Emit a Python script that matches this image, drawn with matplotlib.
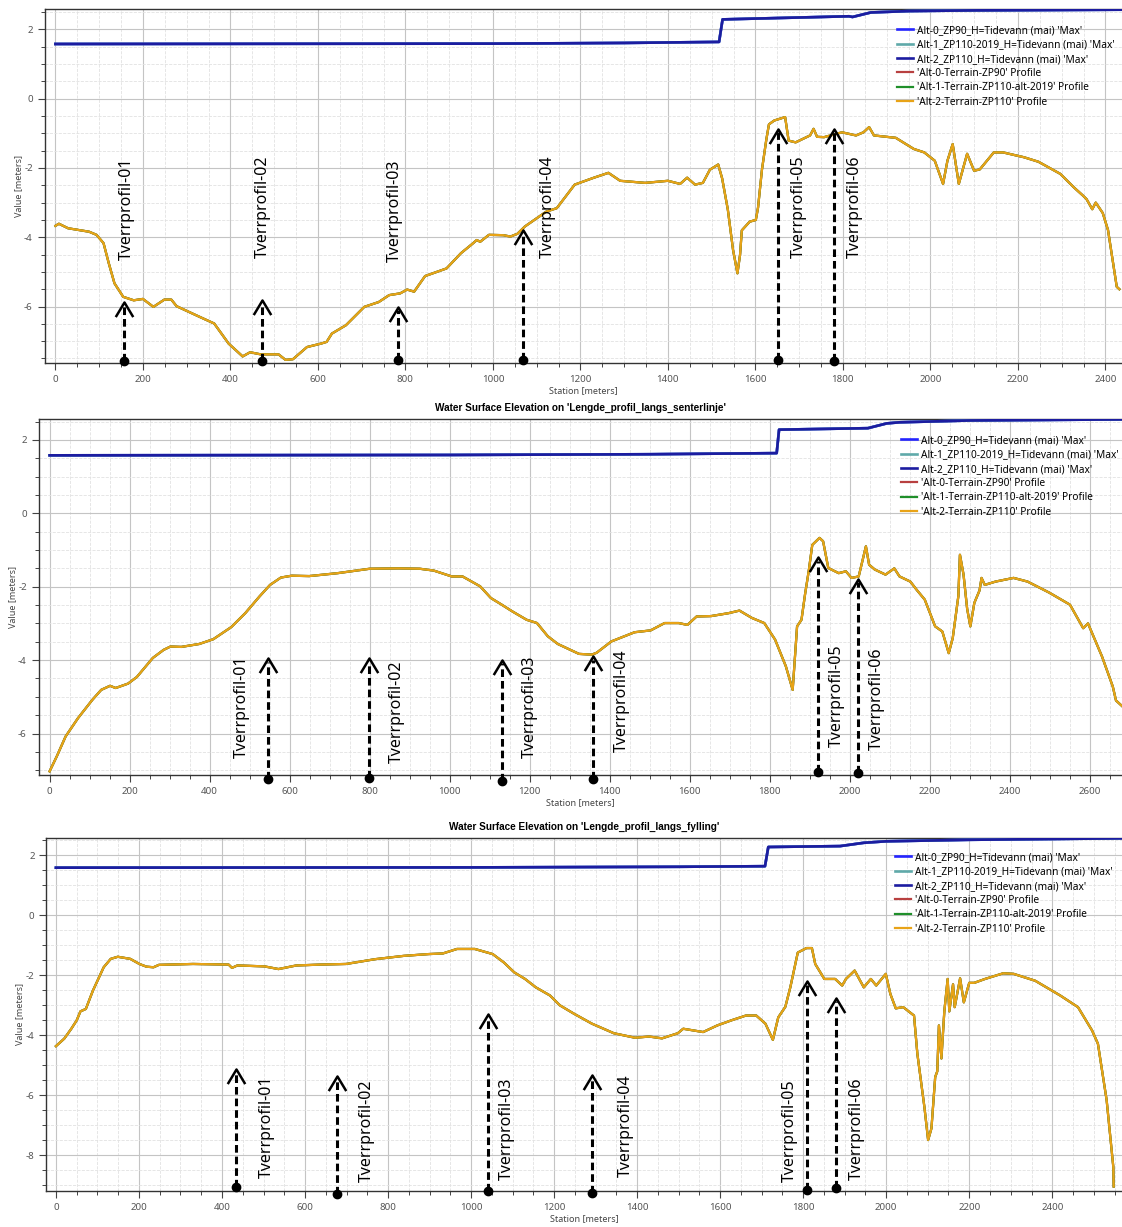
import numpy as np
import matplotlib.pyplot as plt
from matplotlib.path import Path
from matplotlib.ticker import MultipleLocator

plt.rcParams['font.family'] = ['Noto Sans', 'DejaVu Sans']
plt.rcParams['axes.unicode_minus'] = False

# --- series names / colours -------------------------------------------------
legend_labels = [
    "Alt-0_ZP90_H=Tidevann (mai) 'Max'",
    "Alt-1_ZP110-2019_H=Tidevann (mai) 'Max'",
    "Alt-2_ZP110_H=Tidevann (mai) 'Max'",
    "'Alt-0-Terrain-ZP90' Profile",
    "'Alt-1-Terrain-ZP110-alt-2019' Profile",
    "'Alt-2-Terrain-ZP110' Profile",
]
line_colors = ['#2424ff', '#5fa9a9', '#1c1ca0', '#b84040', '#1f8f2a', '#e8a317']

titles = [
    None,
    "Water Surface Elevation on 'Lengde_profil_langs_senterlinje'",
    "Water Surface Elevation on 'Lengde_profil_langs_fylling'",
]
marker_names = ['Tverrprofil-01', 'Tverrprofil-02', 'Tverrprofil-03',
                'Tverrprofil-04', 'Tverrprofil-05', 'Tverrprofil-06']

# --- profile 1 --------------------------------------------------------------
wse_1 = np.array([[0, 1.58], [1000, 1.59], [1300, 1.61], [1517, 1.64], [1525, 2.29],
                  [1814, 2.38], [1822, 2.36], [1864, 2.49], [1950, 2.53], [2100, 2.55],
                  [2440, 2.57]])
terrain_1 = np.array([
    [0, -3.67], [8, -3.61], [29, -3.74], [77, -3.84], [94, -3.93], [110, -4.17],
    [122, -4.75], [135, -5.33], [155, -5.72], [179, -5.82], [200, -5.78], [224, -6.01],
    [249, -5.80], [265, -5.80], [277, -5.99], [330, -6.30], [363, -6.49], [396, -7.07],
    [428, -7.44], [445, -7.32], [469, -7.38], [510, -7.38], [526, -7.54], [543, -7.52],
    [575, -7.17], [607, -7.07], [620, -7.02], [632, -6.78], [664, -6.54], [706, -6.01],
    [739, -5.87], [763, -5.67], [788, -5.62], [804, -5.51], [820, -5.57], [845, -5.12],
    [894, -4.90], [927, -4.46], [955, -4.17], [963, -4.08], [971, -4.13], [991, -3.93],
    [1024, -3.94], [1040, -3.98], [1056, -3.90], [1073, -3.69], [1122, -3.26],
    [1146, -3.16], [1187, -2.48], [1231, -2.28], [1264, -2.14], [1291, -2.37],
    [1348, -2.43], [1400, -2.37], [1428, -2.46], [1444, -2.28], [1462, -2.48],
    [1480, -2.43], [1496, -2.05], [1515, -1.90], [1524, -2.30], [1537, -3.20],
    [1549, -4.37], [1559, -5.04], [1565, -4.50], [1569, -3.80], [1587, -3.55],
    [1601, -3.50], [1606, -3.15], [1615, -2.05], [1625, -1.18], [1631, -0.74],
    [1643, -0.63], [1668, -0.53], [1676, -1.21], [1692, -1.26], [1725, -1.06],
    [1733, -0.87], [1741, -1.10], [1757, -1.11], [1798, -0.97], [1830, -1.06],
    [1847, -0.97], [1860, -0.82], [1871, -1.06], [1921, -1.13], [1962, -1.45],
    [1986, -1.55], [2010, -1.79], [2029, -2.46], [2039, -1.79], [2051, -1.31],
    [2065, -2.46], [2084, -1.59], [2100, -2.08], [2113, -2.04], [2145, -1.55],
    [2166, -1.55], [2214, -1.69], [2247, -1.82], [2297, -2.17], [2328, -2.56],
    [2349, -2.80], [2357, -2.90], [2370, -3.19], [2378, -3.00], [2394, -3.30],
    [2406, -3.79], [2426, -5.43], [2432, -5.50]])
stations_1 = [157, 472, 783, 1069, 1652, 1780]
base_1 = [-7.56, -7.57, -7.55, -7.55, -7.55, -7.58]
tips_1 = [-5.87, -5.82, -6.00, -3.79, -0.87, -0.87]
label_x_1 = [164, 474, 776, 1126, 1700, 1828]
label_y_1 = [-4.66, -4.60, -4.72, -4.60, -4.60, -4.60]

# --- profile 2 (senterlinje) ------------------------------------------------
wse_2 = np.array([[0, 1.58], [1000, 1.59], [1500, 1.61], [1817, 1.64], [1823, 2.28],
                  [2045, 2.32], [2092, 2.45], [2124, 2.48], [2300, 2.53], [2690, 2.56]])
terrain_2 = np.array([
    [0, -7.03], [18, -6.62], [40, -6.08], [71, -5.58], [107, -5.08], [129, -4.81],
    [151, -4.70], [165, -4.76], [196, -4.64], [218, -4.46], [258, -3.94], [285, -3.72],
    [302, -3.63], [329, -3.64], [374, -3.56], [409, -3.43], [454, -3.10], [489, -2.72],
    [525, -2.26], [551, -1.95], [578, -1.75], [605, -1.70], [649, -1.71], [720, -1.63],
    [800, -1.51], [872, -1.50], [925, -1.51], [960, -1.56], [1005, -1.72], [1032, -1.72],
    [1076, -1.99], [1103, -2.31], [1130, -2.49], [1156, -2.67], [1192, -2.90],
    [1218, -2.99], [1245, -3.35], [1270, -3.56], [1323, -3.83], [1355, -3.85],
    [1367, -3.80], [1404, -3.49], [1462, -3.24], [1502, -3.19], [1537, -2.99],
    [1572, -2.99], [1594, -3.04], [1617, -2.81], [1653, -2.80], [1697, -2.72],
    [1724, -2.65], [1755, -2.85], [1786, -2.99], [1813, -3.44], [1840, -4.17],
    [1857, -4.81], [1868, -3.08], [1879, -2.90], [1888, -2.20], [1897, -1.58],
    [1906, -0.86], [1924, -0.67], [1933, -0.76], [1946, -1.49], [1972, -1.63],
    [1990, -1.58], [2004, -1.76], [2022, -1.72], [2040, -0.90], [2048, -1.40],
    [2062, -1.53], [2089, -1.67], [2111, -1.50], [2124, -1.72], [2151, -1.86],
    [2168, -2.10], [2187, -2.35], [2213, -3.08], [2231, -3.22], [2247, -3.81],
    [2257, -3.40], [2271, -2.26], [2275, -1.13], [2284, -1.67], [2293, -2.60],
    [2301, -3.08], [2311, -2.44], [2324, -2.10], [2329, -1.76], [2337, -1.95],
    [2364, -1.86], [2409, -1.76], [2444, -1.86], [2498, -2.16], [2550, -2.49],
    [2583, -3.13], [2595, -3.00], [2630, -3.90], [2657, -4.72], [2665, -5.10],
    [2680, -5.25]])
stations_2 = [545, 797, 1131, 1357, 1920, 2020]
base_2 = [-7.24, -7.21, -7.28, -7.24, -7.04, -7.08]
tips_2 = [-3.94, -3.94, -3.99, -3.90, -1.20, -1.78]
label_x_2 = [481, 869, 1200, 1430, 1968, 2067]
label_y_2 = [-6.66, -6.80, -6.66, -6.50, -6.36, -6.44]

# --- profile 3 (fylling) ----------------------------------------------------
wse_3 = np.array([[0, 1.59], [1000, 1.60], [1500, 1.62], [1708, 1.64], [1716, 2.28],
                  [1889, 2.31], [1946, 2.42], [2000, 2.47], [2200, 2.52], [2570, 2.57]])
terrain_3 = np.array([
    [0, -4.36], [20, -4.11], [37, -3.78], [50, -3.50], [59, -3.20], [72, -3.12],
    [89, -2.51], [115, -1.73], [132, -1.45], [149, -1.38], [179, -1.45], [201, -1.62],
    [218, -1.71], [235, -1.73], [248, -1.65], [330, -1.62], [416, -1.64], [424, -1.75],
    [437, -1.67], [502, -1.70], [536, -1.79], [579, -1.67], [639, -1.64], [699, -1.62],
    [769, -1.46], [838, -1.35], [898, -1.29], [932, -1.27], [966, -1.12], [1009, -1.12],
    [1052, -1.29], [1079, -1.57], [1104, -1.90], [1130, -2.12], [1156, -2.40],
    [1190, -2.67], [1214, -3.00], [1248, -3.28], [1291, -3.61], [1344, -3.93],
    [1395, -4.08], [1429, -4.04], [1460, -4.10], [1498, -3.93], [1511, -3.78],
    [1559, -3.89], [1593, -3.67], [1627, -3.50], [1662, -3.34], [1687, -3.34],
    [1709, -3.61], [1727, -4.15], [1740, -3.40], [1757, -3.05], [1769, -2.40],
    [1787, -1.24], [1808, -1.09], [1821, -1.09], [1829, -1.62], [1851, -2.12],
    [1877, -2.12], [1894, -2.34], [1903, -2.12], [1924, -1.84], [1946, -2.40],
    [1963, -2.12], [1976, -2.34], [1999, -1.95], [2010, -2.62], [2023, -3.10],
    [2041, -3.06], [2067, -3.34], [2075, -4.61], [2092, -6.39], [2101, -7.49],
    [2109, -7.10], [2118, -5.39], [2123, -5.20], [2127, -3.67], [2133, -4.77],
    [2140, -3.20], [2148, -2.12], [2152, -3.20], [2161, -2.30], [2165, -3.06],
    [2178, -2.10], [2187, -2.90], [2200, -2.25], [2212, -2.25], [2238, -2.12],
    [2282, -1.93], [2307, -1.95], [2359, -2.18], [2419, -2.67], [2462, -3.06],
    [2496, -3.84], [2510, -4.28], [2531, -6.16], [2547, -8.38], [2548, -9.04]])
stations_3 = [433, 678, 1041, 1292, 1808, 1879]
base_3 = [-9.04, -9.29, -9.18, -9.26, -9.15, -9.08]
tips_3 = [-5.11, -5.37, -3.28, -5.33, -2.18, -2.74]
label_x_3 = [508, 749, 1087, 1373, 1769, 1930]
label_y_3 = [-8.75, -8.89, -8.82, -8.72, -8.89, -8.82]

# axes boxes in pixels (left, top, bottom), plot runs out to the right edge
W, H = 1122, 1227
boxes = [(44.6, 9, 363), (38.6, 419, 775), (46.4, 838, 1190.7)]
xlims = [(-24.7, 2438), (-27.5, 2680), (-23, 2568)]
ylims = [(-7.63, 2.59), (-7.13, 2.57), (-9.18, 2.58)]
legend_pos = [(897, 25), (901, 435), (895, 852)]

chevron = Path([(-0.6, -1.0), (0, 0), (0.6, -1.0)],
               [Path.MOVETO, Path.LINETO, Path.LINETO])

fig = plt.figure(figsize=(W / 100, H / 100), dpi=100)

panels = [
    (wse_1, terrain_1, stations_1, base_1, tips_1, label_x_1, label_y_1),
    (wse_2, terrain_2, stations_2, base_2, tips_2, label_x_2, label_y_2),
    (wse_3, terrain_3, stations_3, base_3, tips_3, label_x_3, label_y_3),
]

for i, (wse, terr, st, base, tips, lx, ly) in enumerate(panels):
    left, top, bottom = boxes[i]
    ax = fig.add_axes([left / W, 1 - bottom / H, (W - left) / W, (bottom - top) / H])

    # water surface lines (identical for all alternatives, last one on top)
    for c, lab in zip(line_colors[:3], legend_labels[:3]):
        ax.plot(wse[:, 0], wse[:, 1], color=c, lw=1.9, label=lab, zorder=3)
    # terrain profiles
    for c, lab in zip(line_colors[3:], legend_labels[3:]):
        ax.plot(terr[:, 0], terr[:, 1], color=c, lw=1.6, label=lab, zorder=3)

    # cross-section markers
    for s, b, t, x, y, name in zip(st, base, tips, lx, ly, marker_names):
        ax.plot([s, s], [b, t - 0.1], color='black', lw=2.2, dashes=(2.5, 1.3),
                zorder=5, clip_on=False)
        ax.plot(s, t, marker=chevron, ms=21, mfc='none', mec='black', mew=1.8,
                zorder=5, clip_on=False)
        ax.plot(s, b, 'o', ms=6, color='black', zorder=6, clip_on=False)
        ax.text(x, y, name, rotation=90, ha='center', va='bottom', fontsize=11.5,
                color='black', zorder=6)

    ax.set_xlim(*xlims[i])
    ax.set_ylim(*ylims[i])
    ax.xaxis.set_major_locator(MultipleLocator(200))
    ax.xaxis.set_minor_locator(MultipleLocator(50))
    ax.yaxis.set_major_locator(MultipleLocator(2))
    ax.yaxis.set_minor_locator(MultipleLocator(0.5))
    ax.grid(which='major', color='#c4c4c4', lw=0.8)
    ax.grid(which='minor', color='#e2e2e2', lw=0.6, ls='--')
    ax.set_axisbelow(True)
    ax.tick_params(which='major', direction='out', length=5, width=0.8,
                   colors='#444444', labelsize=7, labelcolor='#555555')
    ax.tick_params(which='minor', direction='out', length=3, width=0.7, colors='#444444')
    for side in ('left', 'bottom', 'top'):
        ax.spines[side].set_color('#333333')
        ax.spines[side].set_linewidth(1.0)
    ax.spines['right'].set_visible(False)

    ax.set_xlabel('Station [meters]', fontsize=6.5, color='#444444', labelpad=2)
    ax.set_ylabel('Value [meters]', fontsize=6.5, color='#444444', labelpad=1)
    if titles[i]:
        ax.set_title(titles[i], fontsize=7.2, fontweight='bold',
                     family=['Liberation Sans', 'DejaVu Sans'], pad=6)

    lx0, ly0 = legend_pos[i]
    ax.legend(loc='upper left', bbox_to_anchor=(lx0 / W, 1 - ly0 / H),
              bbox_transform=fig.transFigure, frameon=False, fontsize=7.3,
              handlelength=1.6, handletextpad=0.4, labelspacing=0.33,
              borderpad=0, borderaxespad=0)

fig.savefig('out.png', dpi=100)
